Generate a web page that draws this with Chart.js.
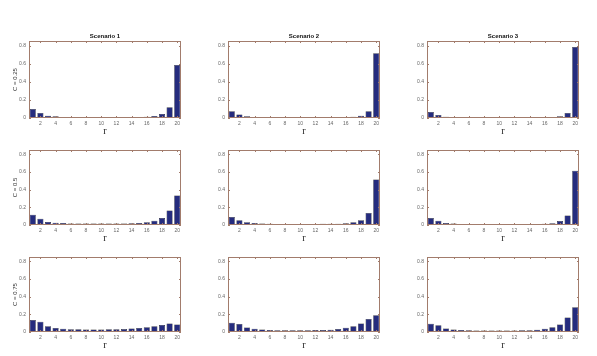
<!DOCTYPE html>
<html>
<head>
<meta charset="utf-8">
<script src="https://cdn.jsdelivr.net/npm/chart.js@4/dist/chart.umd.min.js"></script>
<style>
  html, body { margin: 0; padding: 0; background: #fff; overflow: hidden; }
  #wrap { position: relative; width: 597px; height: 356px; }
  #wrap canvas { position: absolute; }
</style>
</head>
<body>
<div id="wrap"></div>
<script>
// r = 1..20
const categories = [1, 2, 3, 4, 5, 6, 7, 8, 9, 10, 11, 12, 13, 14, 15, 16, 17, 18, 19, 20];
const xTickLabels = ['2', '4', '6', '8', '10', '12', '14', '16', '18', '20'];
const yTicks = [0, 0.2, 0.4, 0.6, 0.8];
const yMax = 0.85;

const scenarios = ['Scenario 1', 'Scenario 2', 'Scenario 3'];
const cLabels = ['C = 0.25', 'C = 0.5', 'C = 0.75'];

// C = 0.25
const s1c25 = [0.10, 0.055, 0.025, 0.018, 0.012, 0.01, 0.01, 0.01, 0.01, 0.01, 0.01, 0.01, 0.01, 0.01, 0.012, 0.015, 0.022, 0.045, 0.12, 0.585];
const s2c25 = [0.075, 0.04, 0.02, 0.012, 0.01, 0.008, 0.007, 0.007, 0.007, 0.007, 0.007, 0.007, 0.007, 0.008, 0.008, 0.009, 0.013, 0.025, 0.075, 0.715];
const s3c25 = [0.065, 0.032, 0.015, 0.01, 0.008, 0.007, 0.006, 0.006, 0.006, 0.006, 0.006, 0.006, 0.006, 0.006, 0.007, 0.008, 0.012, 0.02, 0.055, 0.785];
// C = 0.5
const s1c50 = [0.115, 0.07, 0.035, 0.025, 0.022, 0.018, 0.017, 0.017, 0.017, 0.017, 0.017, 0.017, 0.017, 0.019, 0.022, 0.03, 0.047, 0.08, 0.165, 0.335];
const s2c50 = [0.09, 0.055, 0.03, 0.022, 0.017, 0.013, 0.012, 0.012, 0.012, 0.012, 0.012, 0.012, 0.013, 0.014, 0.015, 0.02, 0.03, 0.055, 0.135, 0.515];
const s3c50 = [0.078, 0.048, 0.022, 0.016, 0.012, 0.01, 0.009, 0.009, 0.009, 0.009, 0.009, 0.009, 0.009, 0.01, 0.012, 0.015, 0.02, 0.045, 0.107, 0.615];
// C = 0.75
const s1c75 = [0.135, 0.115, 0.065, 0.045, 0.038, 0.032, 0.03, 0.029, 0.029, 0.029, 0.03, 0.031, 0.033, 0.04, 0.045, 0.055, 0.065, 0.08, 0.095, 0.085];
const s2c75 = [0.105, 0.092, 0.05, 0.036, 0.028, 0.022, 0.02, 0.02, 0.02, 0.02, 0.02, 0.022, 0.022, 0.026, 0.033, 0.047, 0.065, 0.095, 0.148, 0.19];
const s3c75 = [0.093, 0.077, 0.04, 0.028, 0.024, 0.02, 0.018, 0.018, 0.018, 0.018, 0.018, 0.018, 0.019, 0.021, 0.026, 0.037, 0.055, 0.085, 0.163, 0.28];

const grid = [
    [s1c25, s2c25, s3c25],
    [s1c50, s2c50, s3c50],
    [s1c75, s2c75, s3c75]
];

const barColor = '#252c7e';
const frameColor = '#a27c6c';
const tickColor = '#666';

// plot area placement (left edge of each column, top edge of each row)
const colLeft = [29, 228, 427];
const rowTop = [41, 148, 255];
const plotW = 152, plotH = 77;
const yAxisW = 29, xAxisH = 22, padTop = 4, padRight = 4, titleH = 8;

// box round the plot with ticks pointing inwards, like matlab
const frameBox = {
    id: 'frameBox',
    afterDraw(chart) {
        const { ctx, chartArea: a, scales: { x, y } } = chart;
        const len = 2;
        ctx.save();
        ctx.strokeStyle = frameColor;
        ctx.lineWidth = 1;
        ctx.beginPath();
        categories.forEach((c, i) => {
            if (!xTickLabels.includes(String(c))) { return; }
            const px = Math.round(x.getPixelForValue(i)) + 0.5;
            ctx.moveTo(px, a.bottom); ctx.lineTo(px, a.bottom - len);
            ctx.moveTo(px, a.top); ctx.lineTo(px, a.top + len);
        });
        yTicks.forEach(v => {
            const py = Math.round(y.getPixelForValue(v)) + 0.5;
            ctx.moveTo(a.left, py); ctx.lineTo(a.left + len, py);
            ctx.moveTo(a.right, py); ctx.lineTo(a.right - len, py);
        });
        ctx.stroke();
        ctx.strokeRect(a.left + 0.5, a.top + 0.5, a.right - a.left - 1, a.bottom - a.top - 1);
        ctx.restore();
    }
};

const wrap = document.getElementById('wrap');

grid.forEach((row, r) => {
    row.forEach((values, c) => {
        const hasTitle = r === 0;
        const top = rowTop[r] - padTop - (hasTitle ? titleH : 0);
        const canvas = document.createElement('canvas');
        const w = yAxisW + plotW + padRight;
        const h = padTop + (hasTitle ? titleH : 0) + plotH + xAxisH;
        canvas.style.left = (colLeft[c] - yAxisW) + 'px';
        canvas.style.top = top + 'px';
        canvas.style.width = w + 'px';
        canvas.style.height = h + 'px';
        canvas.width = w;
        canvas.height = h;
        wrap.appendChild(canvas);

        new Chart(canvas, {
            type: 'bar',
            data: {
                labels: categories,
                datasets: [{
                    data: values,
                    backgroundColor: barColor,
                    borderColor: '#111',
                    borderWidth: 0.5,
                    barPercentage: 0.8,
                    categoryPercentage: 1
                }]
            },
            options: {
                responsive: false,
                animation: false,
                layout: { padding: { top: padTop, right: padRight, left: 0, bottom: 0 } },
                plugins: {
                    legend: { display: false },
                    tooltip: { enabled: false },
                    title: {
                        display: hasTitle,
                        text: scenarios[c],
                        fullSize: false,
                        color: '#111',
                        font: { family: 'Liberation Sans, Arial, sans-serif', size: 6, weight: 'bold', lineHeight: 1 },
                        padding: { top: 0, bottom: 2 }
                    }
                },
                scales: {
                    x: {
                        grid: { display: false, drawTicks: false, tickLength: 0 },
                        border: { display: false },
                        ticks: {
                            autoSkip: false,
                            maxRotation: 0,
                            padding: 3,
                            color: tickColor,
                            font: { family: 'Liberation Sans, Arial, sans-serif', size: 5 },
                            callback: (v, i) => xTickLabels.includes(String(categories[i])) ? String(categories[i]) : ''
                        },
                        title: {
                            display: true,
                            text: 'r',
                            color: '#222',
                            font: { family: 'Liberation Serif, Times New Roman, serif', size: 10, lineHeight: 1 },
                            padding: { top: 0, bottom: 4 }
                        },
                        afterFit: scale => { scale.height = xAxisH; }
                    },
                    y: {
                        min: 0,
                        max: yMax,
                        grid: { display: false, drawTicks: false, tickLength: 0 },
                        border: { display: false },
                        afterBuildTicks: scale => { scale.ticks = yTicks.map(v => ({ value: v })); },
                        ticks: {
                            padding: 3,
                            color: tickColor,
                            font: { family: 'Liberation Sans, Arial, sans-serif', size: 5 },
                            callback: v => String(v)
                        },
                        title: {
                            display: c === 0,
                            text: cLabels[r],
                            color: '#333',
                            font: { family: 'Liberation Sans, Arial, sans-serif', size: 6, lineHeight: 1 },
                            padding: { top: 12.5, bottom: 0 }
                        },
                        afterFit: scale => { scale.width = yAxisW; }
                    }
                }
            },
            plugins: [frameBox]
        });
    });
});
</script>
</body>
</html>
